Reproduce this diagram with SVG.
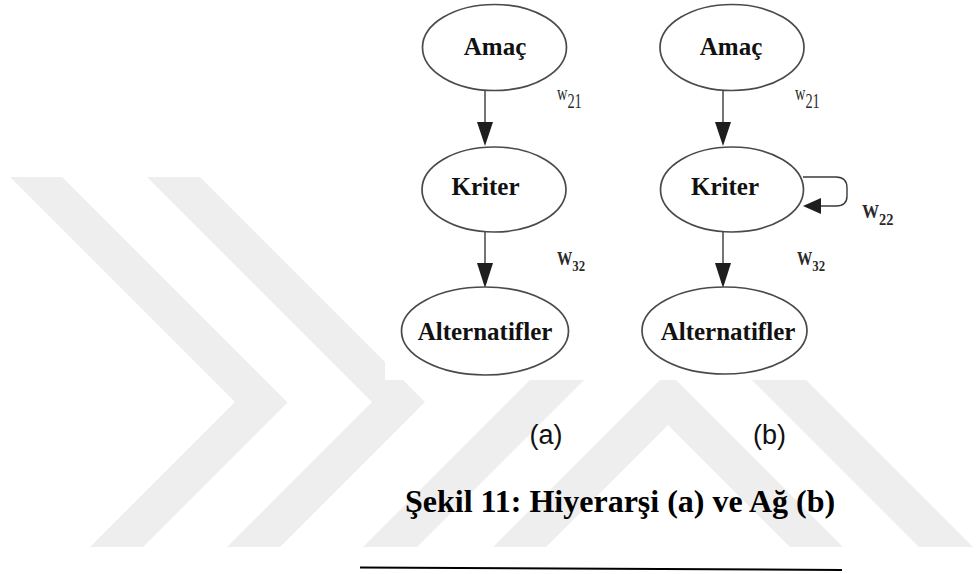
<svg xmlns="http://www.w3.org/2000/svg" width="979" height="574" viewBox="0 0 979 574">
  <style>
    .wm { fill: #eeeeee; }
    .node ellipse { fill: #ffffff; stroke: #4a4a4a; stroke-width: 1.7; }
    .node text { font-family: "Liberation Serif", "Times New Roman", serif; font-weight: bold; font-size: 25px; fill: #111111; text-anchor: middle; }
    .edge { stroke: #3a3a3a; stroke-width: 1.4; fill: none; }
    .head { fill: #1e1e1e; }
    .wl { font-family: "Liberation Serif", "Times New Roman", serif; fill: #2a2a2a; }
    .sub { font-family: "Liberation Sans", Arial, sans-serif; font-size: 27px; fill: #111111; text-anchor: middle; }
    .cap { font-family: "Liberation Serif", "Times New Roman", serif; font-weight: bold; font-size: 32px; fill: #000000; }
  </style>

  <rect width="979" height="574" fill="#ffffff"/>

  <!-- background watermark bands -->
  <g id="watermark">
    <polygon class="wm" points="10,177 62,177 287.5,402.5 143,547 90,547 235,402"/>
    <polygon class="wm" points="147,177 200,177 425,402 280,547 227,547 372,402"/>
    <polygon class="wm" points="363,547 668,242 973,547 919,547 668,296 417,547"/>
    <polygon class="wm" points="493,547 668,372 843,547 790,547 668,425 546,547"/>
  </g>

  <!-- white panel behind the two graphs -->
  <rect x="385" y="0" width="594" height="380" fill="#ffffff"/>

  <!-- connectors -->
  <g id="connectors">
    <line class="edge" x1="485" y1="91" x2="485" y2="124"/>
    <polygon class="head" points="477,122 493,122 485,146"/>
    <line class="edge" x1="485" y1="232" x2="485" y2="265"/>
    <polygon class="head" points="477,263 493,263 485,288"/>

    <line class="edge" x1="723" y1="91" x2="723" y2="124"/>
    <polygon class="head" points="715,122 731,122 723,146"/>
    <line class="edge" x1="723" y1="232" x2="723" y2="265"/>
    <polygon class="head" points="715,263 731,263 723,288"/>

    <path class="edge" d="M 803 177 H 836 Q 847 177 847 188 V 196 Q 847 206 836 206 H 819"/>
    <polygon class="head" points="821,198 821,214 803,206"/>
  </g>

  <!-- hierarchy (a) -->
  <g id="a-amac" class="node">
    <ellipse cx="494.5" cy="47.5" rx="72" ry="43"/>
    <text x="495" y="55">Amaç</text>
  </g>
  <g id="a-kriter" class="node">
    <ellipse cx="494" cy="189.5" rx="72" ry="42.5"/>
    <text x="485.5" y="195">Kriter</text>
  </g>
  <g id="a-alternatifler" class="node">
    <ellipse cx="485" cy="331" rx="83.5" ry="44"/>
    <text x="485" y="340">Alternatifler</text>
  </g>

  <!-- network (b) -->
  <g id="b-amac" class="node">
    <ellipse cx="732" cy="47.5" rx="72" ry="43"/>
    <text x="731" y="55">Amaç</text>
  </g>
  <g id="b-kriter" class="node">
    <ellipse cx="732" cy="189.5" rx="71.5" ry="42.5"/>
    <text x="725" y="195">Kriter</text>
  </g>
  <g id="b-alternatifler" class="node">
    <ellipse cx="724.5" cy="330.5" rx="82.5" ry="43.5"/>
    <text x="728" y="340">Alternatifler</text>
  </g>

  <!-- edge weights (narrow, condensed lettering) -->
  <g id="weights">
    <text class="wl" font-size="20" transform="translate(557,100) scale(0.72,1)">w<tspan dy="8">21</tspan></text>
    <text class="wl" font-size="18" font-weight="bold" transform="translate(557,265) scale(0.85,1)">W<tspan font-size="15" dy="6">32</tspan></text>

    <text class="wl" font-size="20" transform="translate(795,100) scale(0.72,1)">w<tspan dy="8">21</tspan></text>
    <text class="wl" font-size="18" font-weight="bold" transform="translate(797,265) scale(0.85,1)">W<tspan font-size="15" dy="6">32</tspan></text>
    <text class="wl" font-size="19" font-weight="bold" transform="translate(862,218) scale(0.9,1)">W<tspan font-size="16" dy="7">22</tspan></text>
  </g>

  <!-- panel labels and caption -->
  <text class="sub" x="546" y="444">(a)</text>
  <text class="sub" x="769.5" y="444">(b)</text>
  <text class="cap" x="405" y="512">Şekil 11: Hiyerarşi (a) ve Ağ (b)</text>
  <line x1="360" y1="567.5" x2="842" y2="570" stroke="#000000" stroke-width="2"/>
</svg>
